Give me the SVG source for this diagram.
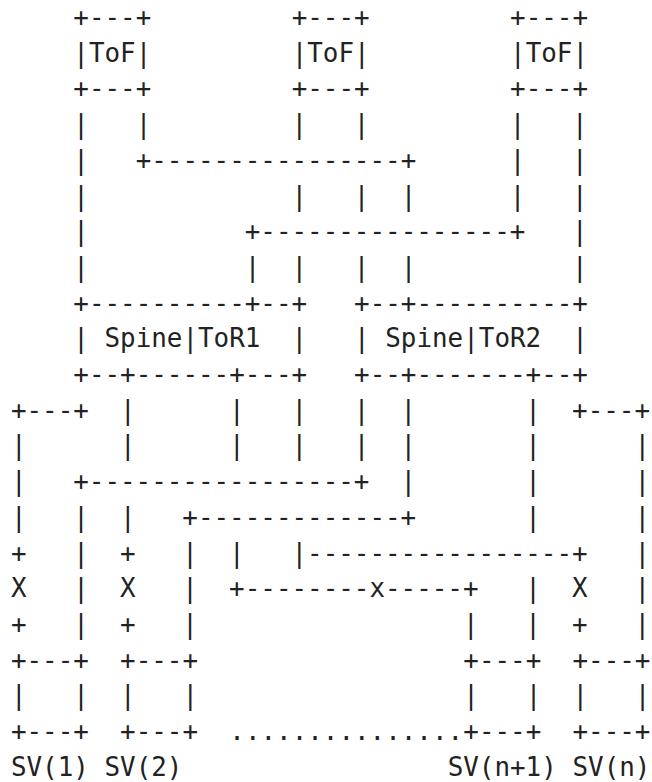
<svg xmlns="http://www.w3.org/2000/svg" width="652" height="782" viewBox="0 0 652 782">
<style>
text { font-family: "DejaVu Sans Mono", "Liberation Mono", monospace; font-size: 25.9px; fill: #222; white-space: pre; }
</style>
<rect width="652" height="782" fill="#ffffff"/>
<g id="tof1" xml:space="preserve">
<text x="73.3" y="26">+---+</text>
<text x="73.3" y="61.7">|ToF|</text>
<text x="73.3" y="97.4">+---+</text>
</g>
<g id="tof2" xml:space="preserve">
<text x="291.7" y="26">+---+</text>
<text x="291.7" y="61.7">|ToF|</text>
<text x="291.7" y="97.4">+---+</text>
</g>
<g id="tof3" xml:space="preserve">
<text x="510.1" y="26">+---+</text>
<text x="510.1" y="61.7">|ToF|</text>
<text x="510.1" y="97.4">+---+</text>
</g>
<g id="spine-tor1" xml:space="preserve">
<text x="73.3" y="311.6">+----------+--+</text>
<text x="73.3" y="347.3">| Spine|ToR1  |</text>
<text x="73.3" y="383">+--+------+---+</text>
</g>
<g id="spine-tor2" xml:space="preserve">
<text x="354.1" y="311.6">+--+----------+</text>
<text x="354.1" y="347.3">| Spine|ToR2  |</text>
<text x="354.1" y="383">+--+-------+--+</text>
</g>
<g id="sv1" xml:space="preserve">
<text x="10.9" y="668.6">+---+</text>
<text x="10.9" y="704.3">|   |</text>
<text x="10.9" y="740">+---+</text>
<text x="10.9" y="775.7">SV(1)</text>
</g>
<g id="sv2" xml:space="preserve">
<text x="120.1" y="668.6">+---+</text>
<text x="120.1" y="704.3">|   |</text>
<text x="120.1" y="740">+---+</text>
<text x="104.5" y="775.7">SV(2)</text>
</g>
<g id="sv-n1" xml:space="preserve">
<text x="463.3" y="668.6">+---+</text>
<text x="463.3" y="704.3">|   |</text>
<text x="463.3" y="740">+---+</text>
<text x="447.7" y="775.7">SV(n+1)</text>
</g>
<g id="sv-n" xml:space="preserve">
<text x="572.5" y="668.6">+---+</text>
<text x="572.5" y="704.3">|   |</text>
<text x="572.5" y="740">+---+</text>
<text x="572.5" y="775.7">SV(n)</text>
</g>
<g id="connectors" xml:space="preserve">
<text x="73.3" y="133.1">|   |         |   |         |   |</text>
<text x="73.3" y="168.8">|   +----------------+      |   |</text>
<text x="73.3" y="204.5">|             |   |  |      |   |</text>
<text x="73.3" y="240.2">|          +----------------+   |</text>
<text x="73.3" y="275.9">|          |  |   |  |          |</text>
<text x="10.9" y="418.7">+---+  |      |   |   |  |       |  +---+</text>
<text x="10.9" y="454.4">|      |      |   |   |  |       |      |</text>
<text x="10.9" y="490.1">|   +-----------------+  |       |      |</text>
<text x="10.9" y="525.8">|   |  |   +-------------+       |      |</text>
<text x="10.9" y="561.5">+   |  +   |  |   |-----------------+   |</text>
<text x="10.9" y="597.2">X   |  X   |  +--------x-----+   |  X   |</text>
<text x="10.9" y="632.9">+   |  +   |                 |   |  +   |</text>
<text x="229.3" y="740">...............</text>
</g>
</svg>
